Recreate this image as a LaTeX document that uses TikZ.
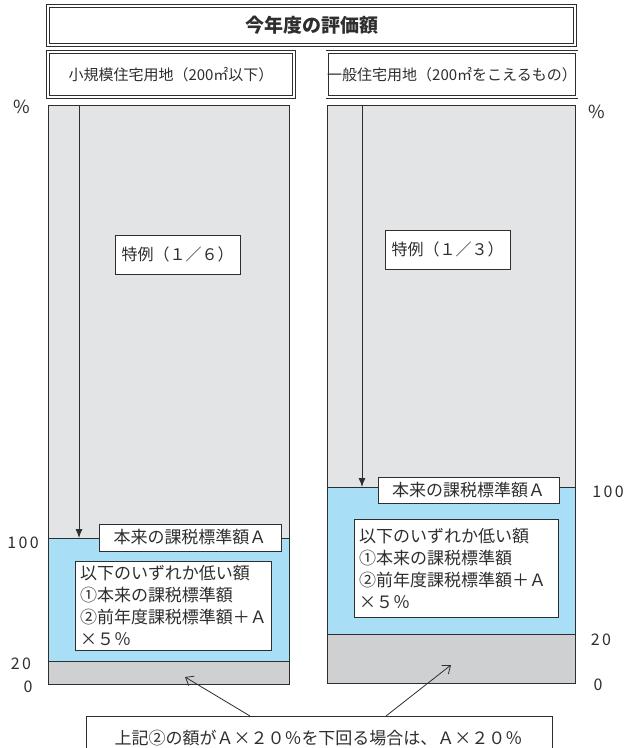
\documentclass[tikz,border=0pt]{standalone}
\usepackage{fontspec}
\setmainfont{Noto Sans CJK JP}
\newfontfamily\jpnum[LetterSpace=15]{Noto Sans CJK JP}
\usetikzlibrary{arrows.meta}
\definecolor{topgray}{HTML}{E3E4E6}
\definecolor{lightblue}{HTML}{A9DEF7}
\definecolor{botgray}{HTML}{CFD0D2}
\definecolor{ink}{HTML}{2E2E2E}
\begin{document}
\begin{tikzpicture}[x=1pt,y=-1pt,
  every node/.style={text=ink},
  dbl/.style={draw=ink, line width=0.9pt, double=white, double distance=1.6pt, inner sep=0pt, outer sep=0pt},
  seg/.style={draw=ink, line width=1pt, inner sep=0pt, outer sep=0pt, anchor=north west},
  lbl/.style={draw=ink, fill=white, line width=0.9pt, inner sep=0pt, outer sep=0pt, font=\fontsize{17}{22}\selectfont},
  txtbox/.style={draw=ink, fill=white, line width=0.9pt, inner xsep=5pt, inner ysep=0pt, outer sep=0pt, anchor=north west, align=left, font=\fontsize{17}{22}\selectfont},
  numlbl/.style={font=\jpnum\fontsize{16}{16}\selectfont, inner sep=0pt},
  downarrow/.style={draw=ink, line width=0.9pt, -{Latex[length=9pt,width=7pt]}},
  barbarrow/.style={draw=ink, line width=0.8pt, -{Straight Barb[length=7pt,width=11pt]}}
]
\useasboundingbox (0,0) rectangle (625,748);
\clip (0,0) rectangle (625,748);

% title and headers
\node[dbl, minimum width=527pt, minimum height=39pt, font=\bfseries\fontsize{19}{19}\selectfont] (title) at (311.5,25.5) {今年度の評価額};
\node[dbl, minimum width=246pt, minimum height=45pt, font=\fontsize{15}{15}\selectfont] (hl) at (171,74.5) {小規模住宅用地（200㎡以下）};
\node[dbl, minimum width=246pt, minimum height=45pt, font=\fontsize{15}{15}\selectfont] (hr) at (452,74.5) {一般住宅用地（200㎡をこえるもの）};

% left column
\node[seg, fill=topgray, minimum width=241pt, minimum height=433pt] (ltop) at (48,105) {};
\node[seg, fill=lightblue, minimum width=241pt, minimum height=123pt] (lmid) at (48,538) {};
\node[seg, fill=botgray, minimum width=241pt, minimum height=23pt] (lbot) at (48,661) {};

% right column
\node[seg, fill=topgray, minimum width=248pt, minimum height=382pt] (rtop) at (327,105) {};
\node[seg, fill=lightblue, minimum width=248pt, minimum height=147pt] (rmid) at (327,487) {};
\node[seg, fill=botgray, minimum width=248pt, minimum height=49pt] (rbot) at (327,634) {};

% top arrows
\coordinate (la0) at (79,105);
\coordinate (la1) at (79,538);
\coordinate (ra0) at (362,105);
\coordinate (ra1) at (362,487);
\draw[downarrow] (la0) -- (la1);
\draw[downarrow] (ra0) -- (ra1);

% special ratio boxes
\node[lbl, font=\fontsize{16}{16}\selectfont, minimum width=125pt, minimum height=39pt] (sl) at (177.5,254.5) {特例（１／６）};
\node[lbl, font=\fontsize{16}{16}\selectfont, minimum width=125pt, minimum height=39pt] (sr) at (447.5,249.5) {特例（１／３）};

% base amount labels
\node[lbl, minimum width=182pt, minimum height=27pt] (al) at (190,537.5) {本来の課税標準額Ａ};
\node[lbl, minimum width=181pt, minimum height=26pt] (ar) at (468.5,490) {本来の課税標準額Ａ};

% inner boxes
\node[txtbox, text width=186pt, minimum height=89pt] (bl) at (75,561) {以下のいずれか低い額\\①本来の課税標準額\\②前年度課税標準額＋Ａ\\×５％};
\node[txtbox, text width=194pt, minimum height=98pt] (br) at (354,519) {以下のいずれか低い額\\①本来の課税標準額\\②前年度課税標準額＋Ａ\\×５％};

% axis labels
\node[font=\fontsize{18}{18}\selectfont, inner sep=0pt] (pl) at (22,107) {\%};
\node[font=\fontsize{18}{18}\selectfont, inner sep=0pt] (pr) at (597,112) {\%};
\node[numlbl] (l100) at (23,543) {100};
\node[numlbl] (l20) at (21,664) {20};
\node[numlbl] (l0) at (28,687) {0};
\node[numlbl] (r100) at (608,492) {100};
\node[numlbl] (r20) at (601,640) {20};
\node[numlbl] (r0) at (598,685) {0};

% bottom note
\node[draw=ink, fill=white, line width=0.9pt, minimum width=466pt, minimum height=44pt, inner sep=0pt, outer sep=0pt, anchor=north west] (note) at (86,716) {};
\node[font=\fontsize{17}{17}\selectfont, inner sep=0pt] (notetext) at (318.5,738) {上記②の額がＡ×２０％を下回る場合は、Ａ×２０％};
\coordinate (n1) at (250,716);
\coordinate (n2) at (386,716);
\coordinate (t1) at (185,677);
\coordinate (t2) at (451,665);
\draw[barbarrow] (n1) -- (t1);
\draw[barbarrow] (n2) -- (t2);
\end{tikzpicture}
\end{document}
